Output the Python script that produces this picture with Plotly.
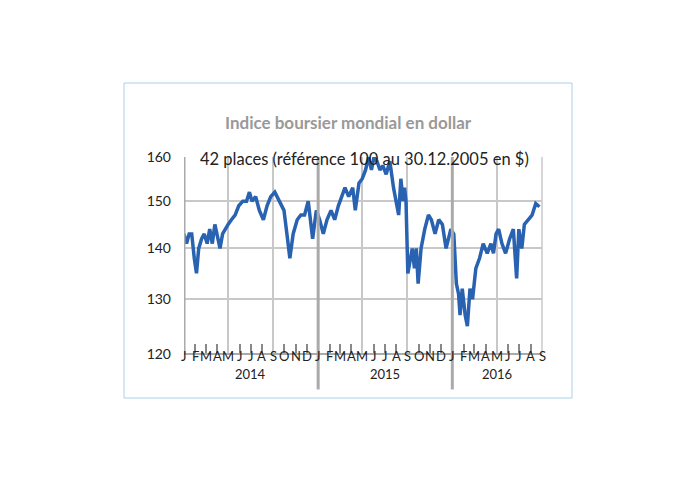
import plotly.graph_objects as go
import math

dates = ["2014-01-01","2014-01-08","2014-01-15","2014-01-22","2014-01-29","2014-02-04","2014-02-10","2014-02-18","2014-02-25",
"2014-03-05","2014-03-12","2014-03-19","2014-03-26","2014-04-02","2014-04-09","2014-04-16","2014-04-23","2014-05-01","2014-05-10",
"2014-05-20","2014-05-30","2014-06-10","2014-06-20","2014-06-28","2014-07-05","2014-07-15","2014-07-25","2014-08-05","2014-08-15",
"2014-08-25","2014-09-05","2014-09-18","2014-09-30","2014-10-08","2014-10-16","2014-10-25","2014-11-05","2014-11-15","2014-11-25",
"2014-12-05","2014-12-12","2014-12-17","2014-12-27",
"2015-01-05","2015-01-15","2015-01-25","2015-02-05","2015-02-15","2015-02-25","2015-03-05","2015-03-15","2015-03-25","2015-04-05",
"2015-04-12","2015-04-22","2015-05-01","2015-05-10","2015-05-18","2015-05-26","2015-06-02","2015-06-10","2015-06-18","2015-06-26",
"2015-07-05","2015-07-15","2015-07-25","2015-08-01","2015-08-08","2015-08-14","2015-08-20","2015-08-24","2015-08-28","2015-09-02",
"2015-09-08","2015-09-14","2015-09-20","2015-09-25","2015-09-30","2015-10-08","2015-10-18","2015-10-28","2015-11-05","2015-11-15",
"2015-11-25","2015-12-05","2015-12-15","2015-12-28",
"2016-01-05","2016-01-12","2016-01-18","2016-01-22","2016-01-28","2016-02-05","2016-02-11","2016-02-18","2016-02-25","2016-03-05",
"2016-03-15","2016-03-25","2016-04-05","2016-04-15","2016-04-22","2016-04-29","2016-05-06","2016-05-15","2016-05-25","2016-06-05",
"2016-06-15","2016-06-24","2016-06-30","2016-07-08","2016-07-15","2016-07-25","2016-08-05","2016-08-15","2016-08-25"]
values = [143,141,143,143,138,135,140,142,143,
141,144,141,145,142,140,143,144,145,146,
147,149,150,150,152,150,151,148,146,149,
151,152,150,148,143,138,143,146,147,147,
150,145,142,148,
146,143,146,148,146,149,151,153,151,153,
148,154,155,157,160,157,160,159,157,158,
156,159,153,150,147,155,150,153,150,135,
138,140,136,140,133,140,144,147,146,143,
146,145,140,144,
143,133,131,127,132,127,125,132,130,136,
138,141,139,141,139,143,144,141,139,142,
144,134,144,140,145,146,147,149.5,148.8]

month_letters = ["J","F","M","A","M","J","J","A","S","O","N","D"]
years = ["2014","2015","2016"]
n_months = 32
y_ticks = [120,130,140,150,160]

fig = go.Figure()
fig.add_trace(go.Scatter(x=dates, y=values, mode="lines",
                         line=dict(color="#2862b0", width=3.5), showlegend=False))

grid = "#c8c8c8"
fig.update_layout(
    width=695, height=483, paper_bgcolor="white", plot_bgcolor="white",
    margin=dict(l=176, r=161, t=149, b=137),
    font=dict(family="Lato", color="#222"),
    xaxis=dict(type="date", range=["2014-01-01","2016-09-01"], showticklabels=False,
               showgrid=True, gridcolor=grid, gridwidth=2, dtick="M4", tick0="2014-01-01",
               ticks="", zeroline=False,
               minor=dict(dtick="M1", tick0="2014-01-01", ticks="inside", ticklen=10,
                          tickcolor="#888", tickwidth=1.5, showgrid=False)),
    yaxis=dict(type="log", range=[math.log10(120), math.log10(160)], tickvals=y_ticks,
               ticktext=[str(v) for v in y_ticks], showgrid=True, gridcolor=grid, gridwidth=1.5,
               zeroline=False, tickfont=dict(size=14, color="#222"), ticks="", ticklabelstandoff=12),
)
fig.add_shape(type="line", xref="paper", yref="paper", x0=0, x1=1, y0=0, y1=0, line=dict(color="#aaa", width=2))
fig.add_shape(type="line", xref="paper", yref="paper", x0=1, x1=1, y0=0, y1=1, line=dict(color=grid, width=1.5))
for yr in ["2014-01-01","2015-01-01","2016-01-01"]:
    fig.add_shape(type="line", xref="x", yref="paper", x0=yr, x1=yr, y0=-0.18 if yr!="2014-01-01" else 0, y1=1,
                  line=dict(color="#aaa", width=3))
for k in range(n_months + 1):
    y0 = 2014 + k // 12
    m = k % 12 + 1
    d = f"{y0}-{m:02d}-01"
    fig.add_annotation(x=d, y=0, xref="x", yref="paper", yshift=-12, text=month_letters[m-1],
                       showarrow=False, font=dict(size=13, color="#222"))
for i, yr in enumerate(years):
    mid = f"{2014+i}-07-01" if i < 2 else "2016-05-01"
    fig.add_annotation(x=mid, y=0, xref="x", yref="paper", yshift=-30, text=yr,
                       showarrow=False, font=dict(size=13, color="#222"))
fig.add_shape(type="rect", xref="paper", yref="paper",
              x0=(124-184)/358, x1=(572-184)/358, y0=-(398-354)/197,
              y1=(354-83)/197, line=dict(color="#a8d0ea", width=1))
fig.add_annotation(x=(348-184)/358, y=(354-110)/197, xref="paper", yref="paper", showarrow=False,
                   text="<b>Indice boursier mondial en dollar</b>", font=dict(size=17, color="#999"))
fig.add_annotation(x=(364-184)/358, y=(354-147)/197, xref="paper", yref="paper", showarrow=False,
                   text="42 places (référence 100 au 30.12.2005 en $)", font=dict(size=16.5, color="#222"))
fig.write_html("out.html")
